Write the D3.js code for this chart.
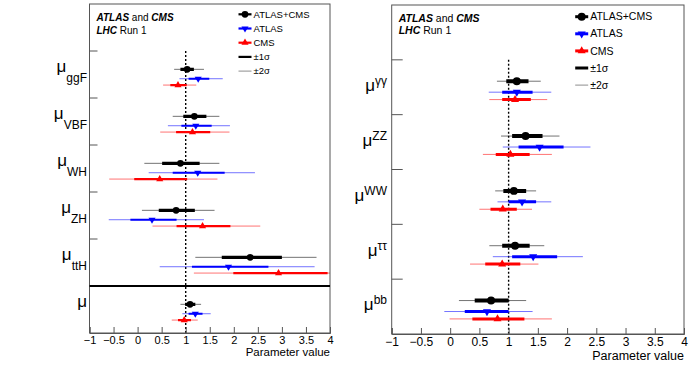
<!DOCTYPE html>
<html>
<head>
<meta charset="utf-8">
<script src="https://cdn.jsdelivr.net/npm/d3@7"></script>
<style>
  body { margin: 0; background: #fff; }
  text { font-family: "Liberation Sans", Arial, sans-serif; }
</style>
</head>
<body>
<script>
// production modes (last row = global signal strength)
var prodCats = ["ggF", "VBF", "WH", "ZH", "ttH", ""];
var prodComb = [1.03, 1.18, 0.89, 0.80, 2.34, 1.09];
var prodComb1 = [[0.89,1.17],[0.95,1.43],[0.51,1.29],[0.44,1.19],[1.75,3.0],[0.99,1.20]];
var prodComb2 = [[0.76,1.38],[0.73,1.70],[0.14,1.70],[0.09,1.60],[1.2,3.72],[0.89,1.32]];
var prodAtlas = [1.26, 1.21, 1.25, 0.30, 1.89, 1.20];
var prodAtlas1 = [[1.06,1.49],[0.91,1.54],[0.73,1.81],[-0.15,0.81],[1.13,2.72],[1.06,1.35]];
var prodAtlas2 = [[0.87,1.77],[0.63,1.92],[0.23,2.44],[-0.6,1.38],[0.46,3.68],[0.93,1.52]];
var prodCms = [0.84, 1.14, 0.46, 1.35, 2.93, 0.97];
var prodCms1 = [[0.68,1.02],[0.80,1.51],[-0.07,1.03],[0.81,1.93],[1.99,3.95],[0.84,1.11]];
var prodCms2 = [[0.53,1.22],[0.47,1.91],[-0.59,1.66],[0.31,2.55],[1.17,5.0],[0.71,1.25]];

// decay channels
var decayCats = ["γγ", "ZZ", "WW", "ττ", "bb"];
var decayComb = [1.14, 1.29, 1.09, 1.11, 0.70];
var decayComb1 = [[0.96,1.34],[1.06,1.58],[0.91,1.30],[0.89,1.36],[0.42,1.0]];
var decayComb2 = [[0.80,1.55],[0.87,1.87],[0.77,1.47],[0.67,1.61],[0.15,1.30]];
var decayAtlas = [1.14, 1.53, 1.23, 1.42, 0.63];
var decayAtlas1 = [[0.89,1.41],[1.17,1.94],[1.0,1.47],[1.06,1.83],[0.25,1.0]];
var decayAtlas2 = [[0.66,1.73],[0.90,2.40],[0.81,1.73],[0.73,2.27],[-0.1,1.41]];
var decayCms = [1.11, 1.03, 0.90, 0.89, 0.81];
var decayCms1 = [[0.89,1.38],[0.78,1.36],[0.69,1.14],[0.60,1.20],[0.38,1.27]];
var decayCms2 = [[0.67,1.66],[0.56,1.74],[0.50,1.40],[0.34,1.51],[-0.01,1.74]];

var xTicks = [-1, -0.5, 0, 0.5, 1, 1.5, 2, 2.5, 3, 3.5, 4];
var legendNames = ["ATLAS+CMS", "ATLAS", "CMS", "±1σ", "±2σ"];

var svg = d3.select("body").append("svg").attr("width", 700).attr("height", 369);

function drawPanel(cfg) {
  var g = svg.append("g");
  var x = d3.scaleLinear().domain([-1, 4]).range([cfg.x0, cfg.x1]);
  var y = d3.scaleBand().domain(["leg"].concat(d3.range(cfg.cats.length))).range([cfg.y0, cfg.y1]);
  var step = y.bandwidth();

  var clipId = "clip" + cfg.id;
  svg.append("clipPath").attr("id", clipId).append("rect")
    .attr("x", cfg.x0).attr("y", cfg.y0).attr("width", cfg.x1 - cfg.x0).attr("height", cfg.y1 - cfg.y0);

  // dotted SM line
  g.append("line")
    .attr("x1", x(1)).attr("x2", x(1))
    .attr("y1", y(0)).attr("y2", cfg.y1)
    .attr("stroke", "#000").attr("stroke-width", 1.4).attr("stroke-dasharray", "2,2");

  var series = [
    {c: cfg.comb, s1: cfg.comb1, s2: cfg.comb2, col: "#000", off: 0.39, sym: "circle", w: cfg.thick},
    {c: cfg.atlas, s1: cfg.atlas1, s2: cfg.atlas2, col: "#0000ff", off: 0.59, sym: "down", w: cfg.thin},
    {c: cfg.cms, s1: cfg.cms1, s2: cfg.cms2, col: "#ff0000", off: 0.725, sym: "up", w: cfg.thin}
  ];

  var plot = g.append("g").attr("clip-path", "url(#" + clipId + ")");
  series.forEach(function(s) {
    var yy = function(i) { return y(i) + s.off * step; };
    plot.selectAll(null).data(s.s2).enter().append("line")
      .attr("x1", function(d) { return x(d[0]); })
      .attr("x2", function(d) { return x(d[1]); })
      .attr("y1", function(d, i) { return yy(i); })
      .attr("y2", function(d, i) { return yy(i); })
      .attr("stroke", s.col).attr("stroke-width", 1).attr("stroke-opacity", 0.55);
    plot.selectAll(null).data(s.s1).enter().append("line")
      .attr("x1", function(d) { return x(d[0]); })
      .attr("x2", function(d) { return x(d[1]); })
      .attr("y1", function(d, i) { return yy(i); })
      .attr("y2", function(d, i) { return yy(i); })
      .attr("stroke", s.col).attr("stroke-width", s.w);
    plot.selectAll(null).data(s.c).enter().append("path")
      .attr("d", symbolPath(s.sym, cfg))
      .attr("transform", function(d, i) { return "translate(" + x(d) + "," + yy(i) + ")" + (s.sym == "down" ? " rotate(180)" : ""); })
      .attr("fill", s.col);
  });

  // frame
  g.append("rect")
    .attr("x", cfg.x0).attr("y", cfg.y0).attr("width", cfg.x1 - cfg.x0).attr("height", cfg.y1 - cfg.y0)
    .attr("fill", "none").attr("stroke", "#555").attr("stroke-width", 1);

  // y ticks at category boundaries
  var bounds = d3.range(cfg.cats.length - (cfg.sep ? 1 : 0));
  g.selectAll(null).data(bounds).enter().append("line")
    .attr("x1", cfg.x0).attr("x2", cfg.x0 + cfg.ytick)
    .attr("y1", function(i) { return y(i); }).attr("y2", function(i) { return y(i); })
    .attr("stroke", "#555");

  if (cfg.sep) {
    g.append("line")
      .attr("x1", cfg.x0).attr("x2", cfg.x1)
      .attr("y1", y(cfg.cats.length - 1)).attr("y2", y(cfg.cats.length - 1))
      .attr("stroke", "#000").attr("stroke-width", 2);
  }

  // x axis (ticks point inward)
  var axG = g.append("g").attr("transform", "translate(0," + cfg.y1 + ")");
  axG.call(d3.axisBottom(x).tickValues(d3.range(-1, 4.001, 0.1)).tickSize(-3).tickFormat(""));
  axG.call(d3.axisBottom(x).tickValues(xTicks).tickSize(-6).tickPadding(3).tickFormat(d3.format("")));
  axG.select(".domain").attr("stroke", "#555");
  axG.selectAll("line").attr("stroke", "#555");
  axG.selectAll("text").attr("font-size", cfg.tickFont).attr("fill", "#000")
    .attr("font-family", "Liberation Sans, Arial, sans-serif");

  g.append("text")
    .attr("x", cfg.x1).attr("y", cfg.y1 + cfg.titleDy)
    .attr("text-anchor", "end").attr("font-size", cfg.tickFont + 0.5)
    .text("Parameter value");

  // category labels
  cfg.cats.forEach(function(c, i) {
    var t = g.append("text")
      .attr("x", cfg.labelX).attr("y", y(i) + cfg.labelOff * step)
      .attr("text-anchor", "end").attr("font-size", 17);
    t.append("tspan").text("μ");
    if (c) {
      t.append("tspan").attr("font-size", 12)
        .attr("dy", cfg.sub ? 10 : -6).text(c);
    }
  });

  // header text
  var h = g.append("text").attr("x", cfg.x0 + 7).attr("y", cfg.y0 + cfg.hdr[0]).attr("font-size", cfg.hdrFont);
  h.append("tspan").attr("font-weight", "bold").attr("font-style", "italic").text("ATLAS");
  h.append("tspan").text(" and ");
  h.append("tspan").attr("font-weight", "bold").attr("font-style", "italic").text("CMS");
  var h2 = g.append("text").attr("x", cfg.x0 + 7).attr("y", cfg.y0 + cfg.hdr[1]).attr("font-size", cfg.hdrFont);
  h2.append("tspan").attr("font-weight", "bold").attr("font-style", "italic").text("LHC");
  h2.append("tspan").text(" Run 1");

  // legend
  var legStyle = [
    {col: "#000", w: cfg.thin, sym: "circle", op: 1},
    {col: "#0000ff", w: cfg.thin, sym: "down", op: 1},
    {col: "#ff0000", w: cfg.thin, sym: "up", op: 1},
    {col: "#000", w: cfg.thin, sym: null, op: 1},
    {col: "#000", w: 1, sym: null, op: 0.45}
  ];
  legendNames.forEach(function(n, i) {
    var ly = cfg.leg.y + i * cfg.leg.dy;
    var st = legStyle[i];
    g.append("line").attr("x1", cfg.leg.x - cfg.leg.hw).attr("x2", cfg.leg.x + cfg.leg.hw)
      .attr("y1", ly).attr("y2", ly)
      .attr("stroke", st.col).attr("stroke-width", st.w).attr("stroke-opacity", st.op);
    if (st.sym) {
      g.append("path").attr("d", symbolPath(st.sym, cfg))
        .attr("transform", "translate(" + cfg.leg.x + "," + ly + ")" + (st.sym == "down" ? " rotate(180)" : ""))
        .attr("fill", st.col);
    }
    g.append("text").attr("x", cfg.leg.x + cfg.leg.hw + 2).attr("y", ly).attr("dy", "0.35em")
      .attr("font-size", cfg.legFont).text(n);
  });
}

function symbolPath(sym, cfg) {
  if (sym == "circle") return d3.symbol().type(d3.symbolCircle).size(cfg.circ)();
  return d3.symbol().type(d3.symbolTriangle).size(cfg.tri)();
}

drawPanel({
  id: "L", x0: 89.5, x1: 330, y0: 4, y1: 333,
  cats: prodCats,
  comb: prodComb, comb1: prodComb1, comb2: prodComb2,
  atlas: prodAtlas, atlas1: prodAtlas1, atlas2: prodAtlas2,
  cms: prodCms, cms1: prodCms1, cms2: prodCms2,
  thick: 3.2, thin: 2.2, circ: 36, tri: 22, ytick: 8, sep: true, sub: true,
  tickFont: 11, titleDy: 23, labelX: 87, labelOff: 0.45,
  hdr: [16.5, 29.5], hdrFont: 10,
  leg: {x: 245, hw: 6.5, y: 14.3, dy: 14.2}, legFont: 9.5
});

drawPanel({
  id: "R", x0: 391.7, x1: 684, y0: 5, y1: 334,
  cats: decayCats,
  comb: decayComb, comb1: decayComb1, comb2: decayComb2,
  atlas: decayAtlas, atlas1: decayAtlas1, atlas2: decayAtlas2,
  cms: decayCms, cms1: decayCms1, cms2: decayCms2,
  thick: 4, thin: 3, circ: 50, tri: 28, ytick: 11, sep: false, sub: false,
  tickFont: 12, titleDy: 26, labelX: 387, labelOff: 0.57,
  hdr: [17, 29], hdrFont: 10.5,
  leg: {x: 581.7, hw: 6.5, y: 16.7, dy: 17.1}, legFont: 10.5
});
</script>
</body>
</html>
